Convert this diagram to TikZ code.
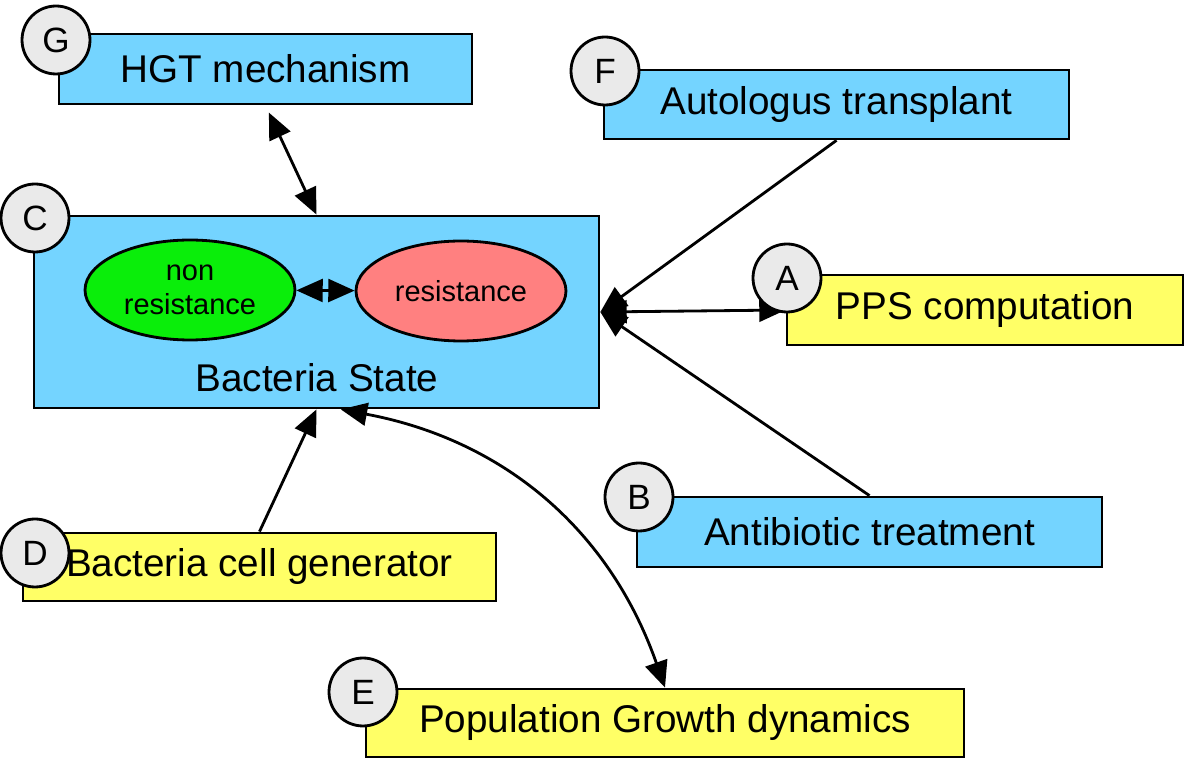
\documentclass[tikz,border=0pt]{standalone}
\usepackage{fontspec}
\setmainfont{Liberation Sans}
\usetikzlibrary{arrows.meta,shapes.geometric}

\definecolor{boxblue}{RGB}{116,212,255}
\definecolor{boxyellow}{RGB}{255,255,102}
\definecolor{cellgreen}{RGB}{10,238,10}
\definecolor{cellred}{RGB}{255,128,128}
\definecolor{badgegray}{RGB}{234,234,234}

\begin{document}
\begin{tikzpicture}[x=0.02cm,y=0.02cm]

\tikzset{line/.style={draw,line width=1.6pt}}
\tikzset{arrow/.style={line,-{Triangle[length=15pt,width=13pt]}}}
\tikzset{dblarrow/.style={line,{Triangle[length=15pt,width=13pt]}-{Triangle[length=15pt,width=13pt]}}}
\tikzset{box/.style={line,rectangle,inner sep=0pt,font=\fontsize{22}{26}\selectfont}}
\tikzset{badge/.style={line,circle,fill=badgegray,inner sep=0pt,minimum size=1.36cm,font=\fontsize{20}{22}\selectfont}}
\tikzset{cell/.style={line,ellipse,inner sep=0pt,minimum width=4.2cm,minimum height=2cm,align=center,font=\fontsize{16.5}{19.5}\selectfont}}

\useasboundingbox (0,0) rectangle (1184,761);

\node[box,fill=boxblue,minimum width=8.26cm,minimum height=1.4cm] (G) at (265.5,692) {HGT mechanism};
\node[box,fill=boxblue,minimum width=9.3cm,minimum height=1.38cm] (F) at (836.5,656.5) {Autologus transplant};
\node[box,fill=boxblue,minimum width=11.3cm,minimum height=3.84cm] (C) at (316.5,449) {};
\node[box,fill=boxyellow,minimum width=7.92cm,minimum height=1.4cm] (A) at (985,451) {PPS computation};
\node[box,fill=boxblue,minimum width=9.3cm,minimum height=1.4cm] (B) at (869.5,229) {Antibiotic treatment};
\node[box,fill=boxyellow,minimum width=9.46cm,minimum height=1.36cm] (D) at (259.5,194) {Bacteria cell generator};
\node[box,fill=boxyellow,minimum width=11.96cm,minimum height=1.36cm] (E) at (665,38) {Population Growth dynamics};

\node[cell,fill=cellgreen] (nonres) at (190,471) {non\\resistance};
\node[cell,fill=cellred] (res) at (461,470) {resistance};
\node[font=\fontsize{22}{26}\selectfont] (Cname) at (317,383) {Bacteria State};

\path[dblarrow] (nonres) to (res);
\path[dblarrow,shorten <=4.5pt] (G.south) to (C.north);
\path[arrow] (F.south) to (C.east);
\path[dblarrow] (C.east) to (A.west);
\path[arrow] (B.north) to (C.east);
\path[arrow] (D.north) to (C.south);
\path[dblarrow] (C.-76) to[bend left=30] (E.north);

\node[badge] (Gb) at (56,721) {G};
\node[badge] (Fb) at (605,690) {F};
\node[badge] (Cb) at (35,543) {C};
\node[badge] (Ab) at (787,483) {A};
\node[badge] (Bb) at (639,264) {B};
\node[badge] (Db) at (35,208) {D};
\node[badge] (Eb) at (363,69) {E};

\end{tikzpicture}
\end{document}
